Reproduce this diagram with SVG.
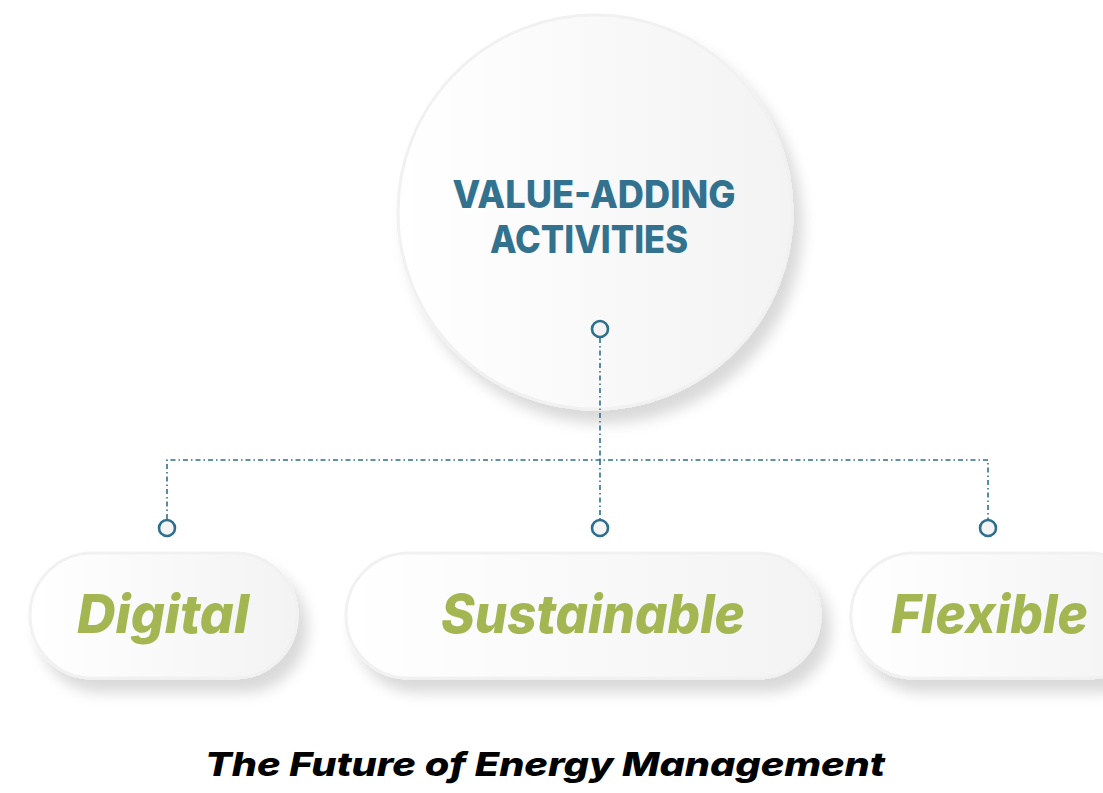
<svg xmlns="http://www.w3.org/2000/svg" width="1103" height="793" viewBox="0 0 1103 793">
<defs>
<linearGradient id="fillg" x1="0" y1="0" x2="1" y2="0">
<stop offset="0" stop-color="#ffffff"/>
<stop offset="1" stop-color="#f3f3f3"/>
</linearGradient>
<filter id="sh" x="-20%" y="-20%" width="150%" height="160%">
<feDropShadow dx="9" dy="13" stdDeviation="7" flood-color="#000000" flood-opacity="0.15"/>
</filter>
<style>
.node{fill:url(#fillg);stroke:#f1f1f1;stroke-width:3;filter:url(#sh)}
.conn{fill:none;stroke:#2f6f8e;stroke-width:1.6;stroke-dasharray:5 3 1.5 3}
.dot{fill:#f4f4f4;stroke:#2f6f8e;stroke-width:2.6}
.head{font-family:Inter,"Liberation Sans",sans-serif;font-weight:800;font-size:38px;fill:#33728f;text-anchor:middle}
.lab{font-family:Inter,"Liberation Sans",sans-serif;font-weight:800;font-style:italic;font-size:54px;fill:#a3b651}
.cap{font-family:Inter,"Liberation Sans",sans-serif;font-weight:800;font-style:italic;font-size:33px;fill:#000000}
</style>
</defs>
<rect width="1103" height="793" fill="#ffffff"/>

<g id="center">
<circle class="node" cx="595" cy="212" r="197"/>
<text class="head" x="594" y="208" textLength="283" lengthAdjust="spacingAndGlyphs">VALUE-ADDING</text>
<text class="head" x="589" y="253" textLength="198" lengthAdjust="spacingAndGlyphs">ACTIVITIES</text>
</g>

<g id="digital">
<rect class="node" x="30" y="553" width="267" height="125" rx="62.5"/>
<text class="lab" x="77" y="633" textLength="172" lengthAdjust="spacingAndGlyphs">Digital</text>
</g>

<g id="sustainable">
<rect class="node" x="346" y="553" width="474" height="125" rx="62.5"/>
<text class="lab" x="441" y="633" textLength="304" lengthAdjust="spacingAndGlyphs">Sustainable</text>
</g>

<g id="flexible">
<rect class="node" x="851" y="553" width="300" height="125" rx="62.5"/>
<text class="lab" x="891" y="633" textLength="197" lengthAdjust="spacingAndGlyphs">Flexible</text>
</g>

<g id="connectors">
<path class="conn" d="M600 338 V460"/>
<path class="conn" d="M167 519 V460 H988 V519"/>
<path class="conn" d="M600 460 V519"/>
<circle class="dot" cx="600" cy="329" r="8"/>
<circle class="dot" cx="167" cy="528" r="8"/>
<circle class="dot" cx="600" cy="528" r="8"/>
<circle class="dot" cx="988" cy="528" r="8"/>
</g>

<g id="caption">
<text class="cap" x="205" y="776" textLength="680" lengthAdjust="spacingAndGlyphs">The Future of Energy Management</text>
</g>
</svg>
